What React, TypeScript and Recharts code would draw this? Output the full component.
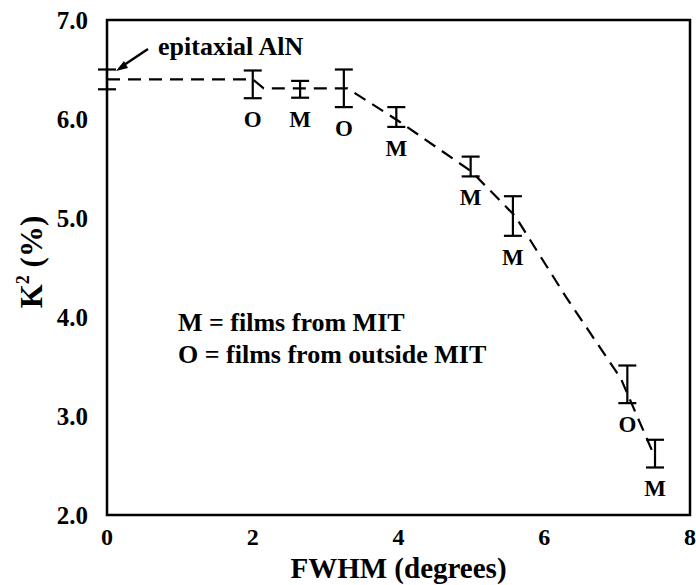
import React from "react";
import {
  ComposedChart,
  Line,
  Scatter,
  ErrorBar,
  XAxis,
  YAxis,
  ReferenceArea,
} from "recharts";

// measured K^2 values with error bars
const fwhm = [0, 2.0, 2.65, 3.25, 3.97, 4.99, 5.57, 7.14, 7.52];
const k2 = [6.4, 6.35, 6.3, 6.31, 6.02, 5.52, 5.02, 3.32, 2.62];
const k2Err = [0.1, 0.14, 0.085, 0.19, 0.1, 0.1, 0.2, 0.19, 0.14];
const source = ["", "O", "M", "O", "M", "M", "M", "O", "M"];

// dashed guide to the eye
const guideX = [0, 2, 2.15, 3.3, 4, 5, 5.6, 6.3, 7.05, 7.52];
const guideY = [6.4, 6.4, 6.31, 6.31, 5.98, 5.47, 5.02, 4.2, 3.38, 2.58];

const xTicks = [0, 2, 4, 6, 8];
const yTicks = [2, 3, 4, 5, 6, 7];

const points = fwhm.map((x, i) => ({ x, y: k2[i], err: k2Err[i] }));
const labels = fwhm
  .map((x, i) => ({ x, y: k2[i] - k2Err[i], label: source[i] }))
  .filter((d) => d.label !== "");
const guide = guideX.map((x, i) => ({ x, y: guideY[i] }));

const font = "'Liberation Serif', 'Times New Roman', serif";

const LetterShape = (props: any) => (
  <text
    x={props.cx}
    y={props.cy + 29}
    textAnchor="middle"
    fontFamily={font}
    fontWeight="bold"
    fontSize={23}
    fill="#000"
  >
    {props.payload.label}
  </text>
);

export default function App() {
  return (
    <div style={{ position: "absolute", left: 0, top: 0, width: 696, height: 585, background: "#fff" }}>
      <ComposedChart
        width={696}
        height={585}
        margin={{ top: 20, right: 6, bottom: 0, left: 47 }}
      >
        <XAxis
          dataKey="x"
          type="number"
          domain={[0, 8]}
          ticks={xTicks}
          allowDataOverflow
          height={70}
          tickLine={false}
          tickSize={0}
          tickMargin={13}
          axisLine={false}
          tick={{ fill: "#000", fontSize: 24, fontWeight: "bold", fontFamily: font }}
          label={{
            value: "FWHM (degrees)",
            position: "insideBottom",
            offset: 7,
            fill: "#000",
            fontSize: 29,
            fontWeight: "bold",
            fontFamily: font,
          }}
        />
        <YAxis
          dataKey="y"
          type="number"
          domain={[2, 7]}
          ticks={yTicks}
          allowDataOverflow
          width={60}
          tickLine={false}
          tickSize={0}
          tickMargin={19}
          axisLine={false}
          tickFormatter={(v: number) => v.toFixed(1)}
          tick={{ fill: "#000", fontSize: 25, fontWeight: "bold", fontFamily: font }}
        />
        <ReferenceArea
          x1={0}
          x2={8}
          y1={2}
          y2={7}
          fill="none"
          stroke="#000"
          strokeWidth={2.5}
          ifOverflow="visible"
        />
        <Line
          data={guide}
          dataKey="y"
          type="linear"
          stroke="#000"
          strokeWidth={2.2}
          strokeDasharray="13 8"
          dot={false}
          activeDot={false}
          isAnimationActive={false}
        />
        <Scatter data={points} dataKey="y" shape={() => <g />} isAnimationActive={false}>
          <ErrorBar dataKey="err" direction="y" width={9} stroke="#000" strokeWidth={2.2} />
        </Scatter>
        <Scatter data={labels} dataKey="y" shape={LetterShape} isAnimationActive={false} />
      </ComposedChart>
      <svg
        width={696}
        height={585}
        style={{ position: "absolute", left: 0, top: 0, pointerEvents: "none" }}
        fontFamily={font}
        fontWeight="bold"
      >
        <text x={42} y={262} transform="rotate(-90 42 262)" textAnchor="middle" fontSize={31} fill="#000">
          K<tspan fontSize={18} dy={-13}>2</tspan>
          <tspan dy={13}> (%)</tspan>
        </text>
        <line x1={148} y1={49} x2={121} y2={67} stroke="#000" strokeWidth={2.5} />
        <polygon points="116,71 124,61 128,68" fill="#000" />
        <text x={158} y={55} fontSize={26} fill="#000">epitaxial AlN</text>
        <text x={178} y={331} fontSize={26} fill="#000">M = films from MIT</text>
        <text x={178} y={363} fontSize={26} fill="#000">O = films from outside MIT</text>
      </svg>
    </div>
  );
}
